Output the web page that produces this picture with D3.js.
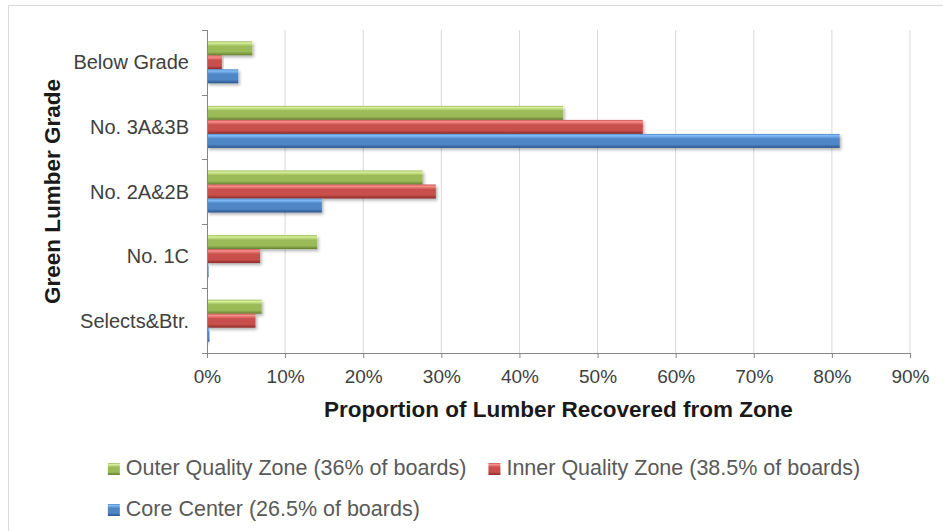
<!DOCTYPE html>
<html>
<head>
<meta charset="utf-8">
<script src="https://cdn.jsdelivr.net/npm/d3@7"></script>
<style>
  html, body { margin: 0; padding: 0; background: #fff; }
  svg { display: block; }
  text { font-family: "Liberation Sans", Arial, Helvetica, sans-serif; }
</style>
</head>
<body>
<svg id="chart" width="943" height="531"></svg>
<script>
// Grades, listed top to bottom
const grades = ["Below Grade", "No. 3A&3B", "No. 2A&2B", "No. 1C", "Selects&Btr."];

// Share of lumber (%) recovered from each log zone, per grade
const outerZone = [5.8, 45.6, 27.6, 14.1, 7.0];
const innerZone = [1.9, 55.8, 29.3, 6.8, 6.2];
const coreZone  = [4.0, 81.0, 14.7, 0.2, 0.3];

const seriesNames = [
  "Outer Quality Zone (36% of boards)",
  "Inner Quality Zone (38.5% of boards)",
  "Core Center (26.5% of boards)"
];
const seriesKeys = ["outer", "inner", "core"];
const xTicks = [0, 10, 20, 30, 40, 50, 60, 70, 80, 90];

const palette = {
  outer: { hi: "#d8f09a", base: "#9bbb59", lo: "#657f2e" },
  inner: { hi: "#f8918d", base: "#c8504c", lo: "#8a2a28" },
  core:  { hi: "#80bdf8", base: "#4f86c6", lo: "#2a548c" }
};

const rows = grades.map((g, i) => ({
  grade: g,
  outer: outerZone[i],
  inner: innerZone[i],
  core: coreZone[i]
}));

const svg = d3.select("#chart");
const defs = svg.append("defs");

// Bevelled bar fills
seriesKeys.forEach(k => {
  const c = palette[k];
  const lg = defs.append("linearGradient")
    .attr("id", "grad-" + k)
    .attr("x1", 0).attr("y1", 0).attr("x2", 0).attr("y2", 1);
  lg.append("stop").attr("offset", "0%").attr("stop-color", c.base);
  lg.append("stop").attr("offset", "12%").attr("stop-color", c.hi);
  lg.append("stop").attr("offset", "35%").attr("stop-color", c.base);
  lg.append("stop").attr("offset", "75%").attr("stop-color", c.base);
  lg.append("stop").attr("offset", "100%").attr("stop-color", c.lo);
});

const shadow = defs.append("filter").attr("id", "barShadow")
  .attr("x", "-5%").attr("y", "-20%").attr("width", "115%").attr("height", "160%");
shadow.append("feDropShadow")
  .attr("dx", 1.5).attr("dy", 2).attr("stdDeviation", 1.5)
  .attr("flood-color", "#000").attr("flood-opacity", 0.3);

// Chart area frame
const chartArea = { left: 8, width: 952 };
svg.append("rect")
  .attr("x", chartArea.left + 0.5).attr("y", 5.5)
  .attr("width", chartArea.width).attr("height", 560)
  .attr("fill", "#fff")
  .attr("stroke", "#d9d9d9");

const plot = { left: 207, right: 910, top: 30, bottom: 353 };

const x = d3.scaleLinear().domain([0, 90]).range([plot.left, plot.right]);
const y0 = d3.scaleBand().domain(grades)
  .range([plot.top, plot.bottom])
  .paddingInner(0.35).paddingOuter(0.175);
const y1 = d3.scaleBand().domain(seriesKeys).range([0, y0.bandwidth()]);

// Vertical gridlines
svg.append("g")
  .selectAll("line")
  .data(xTicks.slice(1))
  .join("line")
  .attr("x1", d => x(d)).attr("x2", d => x(d))
  .attr("y1", plot.top).attr("y2", plot.bottom)
  .attr("stroke", "#d9d9d9").attr("stroke-width", 1);

// Bars
const groups = svg.append("g")
  .selectAll("g")
  .data(rows)
  .join("g")
  .attr("transform", d => `translate(0,${y0(d.grade)})`);

groups.selectAll("rect")
  .data(d => seriesKeys.map(k => ({ key: k, value: d[k] })))
  .join("rect")
  .attr("x", x(0))
  .attr("y", d => y1(d.key))
  .attr("width", d => x(d.value) - x(0))
  .attr("height", y1.bandwidth())
  .attr("fill", d => `url(#grad-${d.key})`)
  .attr("filter", "url(#barShadow)");

// X axis
const xAxis = d3.axisBottom(x)
  .tickValues(xTicks)
  .tickFormat(d => d + "%")
  .tickSizeInner(5).tickSizeOuter(0).tickPadding(12);

const gx = svg.append("g")
  .attr("transform", `translate(0,${plot.bottom})`)
  .call(xAxis);
gx.select(".domain").attr("stroke", "#868686");
gx.selectAll(".tick line").attr("stroke", "#868686");
gx.selectAll(".tick text")
  .attr("fill", "#404040")
  .style("font-size", "19px");

// Y axis: ticks sit on the category boundaries
const boundaries = d3.range(grades.length + 1).map(i => plot.top + i * y0.step());
svg.append("line")
  .attr("x1", plot.left + 0.5).attr("x2", plot.left + 0.5)
  .attr("y1", plot.top).attr("y2", plot.bottom)
  .attr("stroke", "#868686");
svg.append("g").selectAll("line")
  .data(boundaries)
  .join("line")
  .attr("x1", plot.left - 5).attr("x2", plot.left)
  .attr("y1", d => Math.round(d) + 0.5).attr("y2", d => Math.round(d) + 0.5)
  .attr("stroke", "#868686");

svg.append("g").selectAll("text")
  .data(grades)
  .join("text")
  .attr("x", 189)
  .attr("y", d => y0(d) + y0.bandwidth() / 2)
  .attr("dy", "0.35em")
  .attr("text-anchor", "end")
  .attr("fill", "#404040")
  .style("font-size", "20px")
  .text(d => d);

// Axis titles
svg.append("text")
  .attr("x", (plot.left + plot.right) / 2).attr("y", 417)
  .attr("text-anchor", "middle")
  .attr("fill", "#1a1a1a")
  .style("font-size", "22.5px").style("font-weight", "bold")
  .text("Proportion of Lumber Recovered from Zone");

svg.append("text")
  .attr("transform", `translate(60,${(plot.top + plot.bottom) / 2}) rotate(-90)`)
  .attr("text-anchor", "middle")
  .attr("fill", "#1a1a1a")
  .style("font-size", "22.5px").style("font-weight", "bold")
  .text("Green Lumber Grade");

// Legend: two rows, centred in the chart area
const sq = 12, sqGap = 6, itemGap = 22, legendFont = "21.5px";
const legend = svg.append("g");
function legendItem(key, label, x0, yBase) {
  const g = legend.append("g");
  g.append("rect")
    .attr("x", x0).attr("y", yBase - 12)
    .attr("width", sq).attr("height", sq)
    .attr("fill", `url(#grad-${key})`);
  const t = g.append("text")
    .attr("x", x0 + sq + sqGap).attr("y", yBase)
    .attr("fill", "#595959")
    .style("font-size", legendFont)
    .text(label);
  return sq + sqGap + t.node().getComputedTextLength();
}
// Measure the first row to centre it
const probe = svg.append("g");
const widths = seriesNames.map(s => {
  const t = probe.append("text").style("font-size", legendFont).text(s);
  return t.node().getComputedTextLength();
});
probe.remove();
const row1Width = 2 * (sq + sqGap) + widths[0] + widths[1] + itemGap;
const legendLeft = chartArea.left + chartArea.width / 2 - row1Width / 2;
const w1 = legendItem("outer", seriesNames[0], legendLeft, 475);
legendItem("inner", seriesNames[1], legendLeft + w1 + itemGap, 475);
legendItem("core", seriesNames[2], legendLeft, 516);
</script>
</body>
</html>
